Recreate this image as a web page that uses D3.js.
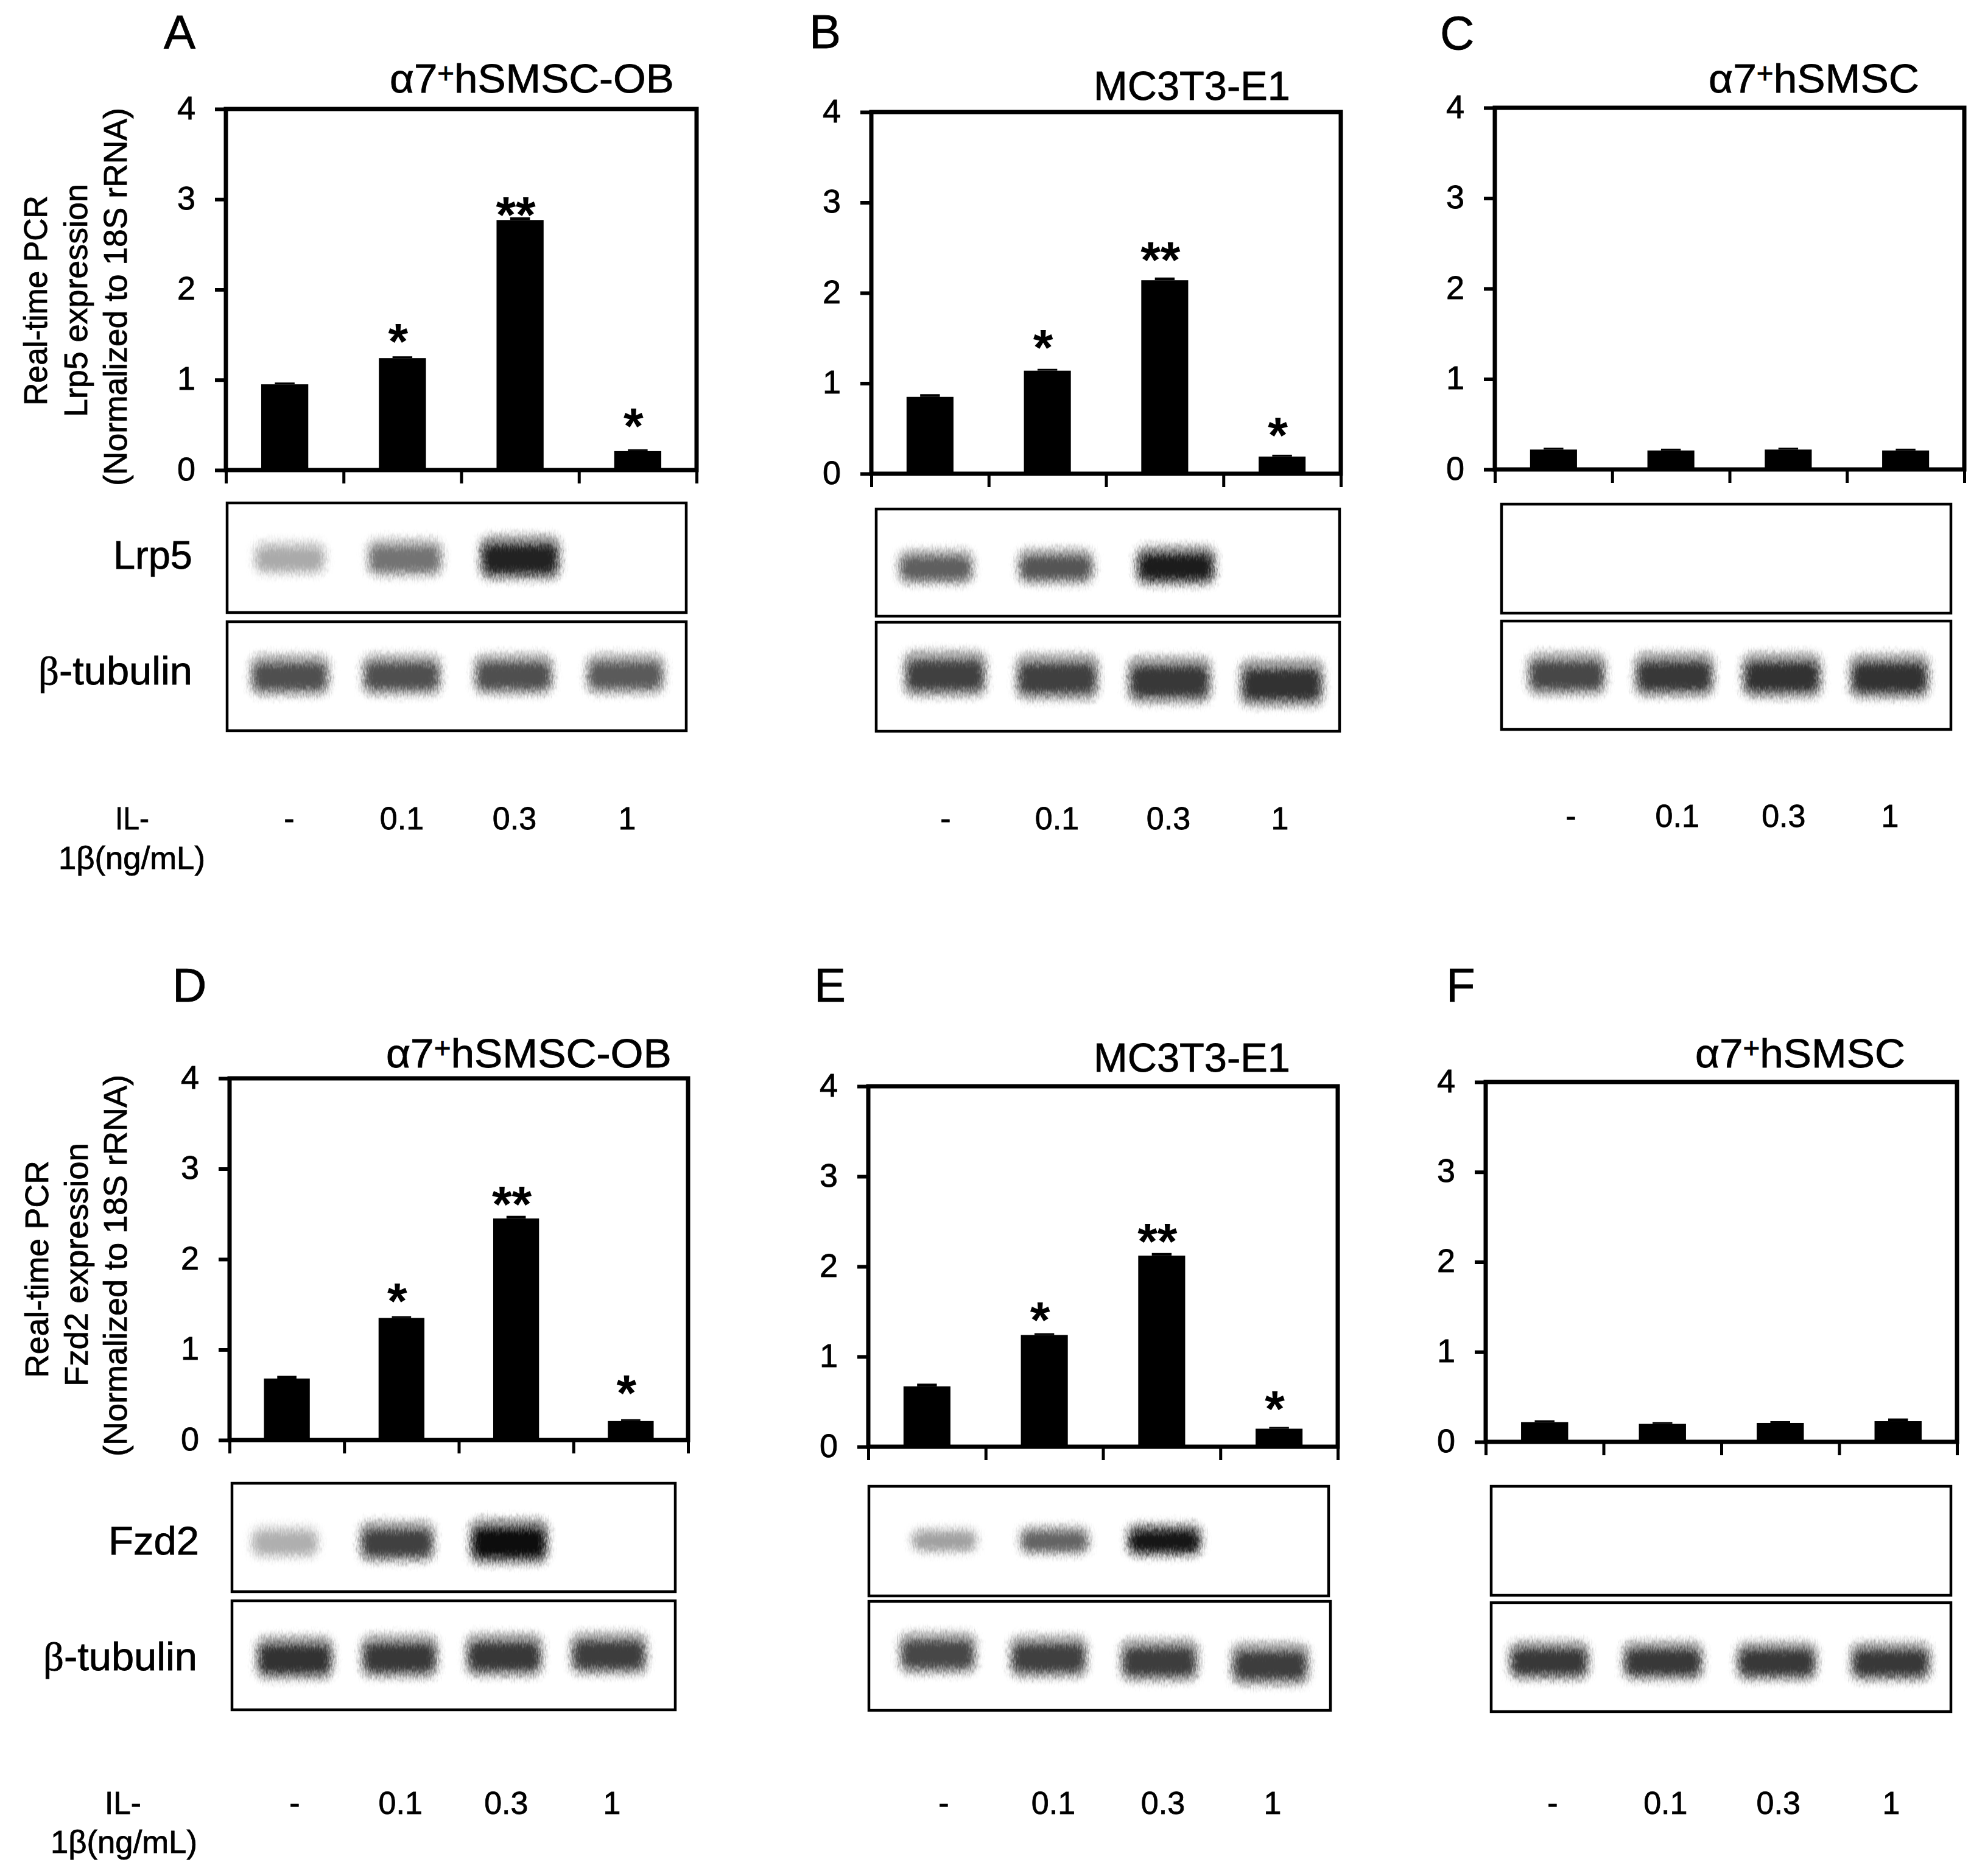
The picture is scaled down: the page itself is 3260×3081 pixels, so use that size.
<!DOCTYPE html>
<meta charset="utf-8">
<style>
  body { margin: 0; background: #fff; }
  text { font-family: "Liberation Sans", Arial, sans-serif; fill: #000; stroke: #000; stroke-width: 0.8px; }
</style>
<script src="https://d3js.org/d3.v7.min.js"></script>
<div id="figure"></div>
<script>
// bar values
var doses = ["-", "0.1", "0.3", "1"];
var yTicks = [0, 1, 2, 3, 4];

var lrp5Ob = [0.95, 1.24, 2.77, 0.21];
var lrp5Mc = [0.85, 1.14, 2.14, 0.19];
var lrp5Sc = [0.22, 0.21, 0.22, 0.21];
var fzd2Ob = [0.68, 1.35, 2.45, 0.21];
var fzd2Mc = [0.67, 1.24, 2.12, 0.20];
var fzd2Sc = [0.22, 0.20, 0.21, 0.23];

var lrp5ObErr = [0.02, 0.02, 0.03, 0.02];
var lrp5McErr = [0.03, 0.02, 0.03, 0.02];
var lrp5ScErr = [0.02, 0.02, 0.02, 0.02];
var fzd2ObErr = [0.03, 0.02, 0.03, 0.02];
var fzd2McErr = [0.03, 0.02, 0.03, 0.02];
var fzd2ScErr = [0.02, 0.02, 0.02, 0.03];

// significance marks, and the height (in axis units) where they sit
var stars = ["", "*", "**", "*"];
var noStars = ["", "", "", ""];
var lrp5ObStarAt = [0, 1.50, 2.90, 0.56];
var lrp5McStarAt = [0, 1.47, 2.44, 0.50];
var fzd2ObStarAt = [0, 1.61, 2.68, 0.59];
var fzd2McStarAt = [0, 1.48, 2.35, 0.49];

// gel band grey levels (255 = no band)
var lrp5ObBands = [170, 115, 35, 255];
var lrp5McBands = [95, 85, 30, 255];
var noBands = [255, 255, 255, 255];
var fzd2ObBands = [175, 65, 10, 255];
var fzd2McBands = [160, 100, 25, 255];
var tubObBands = [80, 80, 80, 90];
var tubMcBands = [65, 65, 55, 50];
var tubScBands = [70, 55, 50, 50];
var tubOb2Bands = [50, 55, 55, 60];
var tubMc2Bands = [70, 65, 60, 60];
var tubSc2Bands = [55, 55, 55, 55];

var sans = "Liberation Sans";

var panels = [
  { letter: "A", lx: 269, ly: 80, title: "ob", tx: [640, 1107], ty: 152, frame: [371, 1144, 179, 772],
    values: lrp5Ob, errs: lrp5ObErr, marks: stars, starAt: lrp5ObStarAt,
    gene: "Lrp5", geneX: [186, 316], geneY: 934, tubX: [63, 316], tubY: 1124,
    ylabel: { lines: ["Real-time PCR", "Lrp5 expression", "(Normalized to 18S rRNA)"], x: [77, 143, 208], y: [[666, 321], [685, 302], [798, 177]] },
    il: { a: [189, 245, 1362], b: [96, 337, 1427] },
    box1: [373, 1127, 826, 1006], box2: [373, 1127, 1021, 1200],
    top: { bands: lrp5ObBands, lanes: [476, 1043], cy: [918, 918], w: 134, h: 68 },
    bot: { bands: tubObBands, lanes: [476, 1027], cy: [1111, 1109], w: 136, h: 68 },
    doseX: [475, 1030], doseY: 1362 },
  { letter: "B", lx: 1329, ly: 79, title: "mc", tx: [1796, 2119], ty: 164, frame: [1431, 2202, 184, 778],
    values: lrp5Mc, errs: lrp5McErr, marks: stars, starAt: lrp5McStarAt,
    box1: [1439, 2200, 836, 1012], box2: [1439, 2200, 1022, 1201],
    top: { bands: lrp5McBands, lanes: [1537, 2128], cy: [933, 930], w: 132, h: 60 },
    bot: { bands: tubMcBands, lanes: [1552, 2105], cy: [1109, 1124], w: 140, h: 74 },
    doseX: [1553, 2102], doseY: 1362 },
  { letter: "C", lx: 2365, ly: 81, title: "sc", tx: [2806, 3152], ty: 152, frame: [2455, 3226, 177, 771],
    values: lrp5Sc, errs: lrp5ScErr, marks: noStars,
    box1: [2466, 3204, 828, 1007], box2: [2466, 3204, 1020, 1198],
    top: { bands: noBands, lanes: [2573, 3103], cy: [918, 918], w: 130, h: 60 },
    bot: { bands: tubScBands, lanes: [2573, 3103], cy: [1109, 1113], w: 134, h: 70 },
    doseX: [2580, 3104], doseY: 1358 },
  { letter: "D", lx: 283, ly: 1645, title: "ob", tx: [634, 1103], ty: 1753, frame: [377, 1130, 1771, 2365],
    values: fzd2Ob, errs: fzd2ObErr, marks: stars, starAt: fzd2ObStarAt,
    gene: "Fzd2", geneX: [178, 327], geneY: 2553, tubX: [71, 324], tubY: 2743,
    ylabel: { lines: ["Real-time PCR", "Fzd2 expression", "(Normalized to 18S rRNA)"], x: [79, 144, 208], y: [[2263, 1906], [2277, 1877], [2392, 1765]] },
    il: { a: [172, 232, 2979], b: [83, 324, 3043] },
    box1: [381, 1109, 2436, 2614], box2: [381, 1109, 2629, 2808],
    top: { bands: fzd2ObBands, lanes: [468, 1020], cy: [2534, 2534], w: 128, h: 66 },
    bot: { bands: tubOb2Bands, lanes: [484, 1000], cy: [2725, 2718], w: 130, h: 68 },
    doseX: [484, 1005], doseY: 2979 },
  { letter: "E", lx: 1337, ly: 1645, title: "mc", tx: [1796, 2119], ty: 1760, frame: [1426, 2197, 1784, 2376],
    values: fzd2Mc, errs: fzd2McErr, marks: stars, starAt: fzd2McStarAt,
    box1: [1427, 2182, 2441, 2621], box2: [1427, 2185, 2630, 2809],
    top: { bands: fzd2McBands, lanes: [1551, 2093], cy: [2531, 2531], w: 125, h: 50 },
    bot: { bands: tubMc2Bands, lanes: [1540, 2086], cy: [2717, 2735], w: 132, h: 68 },
    doseX: [1550, 2090], doseY: 2979 },
  { letter: "F", lx: 2375, ly: 1645, title: "sc", tx: [2784, 3129], ty: 1753, frame: [2440, 3214, 1777, 2368],
    values: fzd2Sc, errs: fzd2ScErr, marks: noStars,
    box1: [2449, 3204, 2441, 2620], box2: [2449, 3204, 2632, 2811],
    top: { bands: noBands, lanes: [2544, 3105], cy: [2530, 2530], w: 130, h: 60 },
    bot: { bands: tubSc2Bands, lanes: [2544, 3105], cy: [2729, 2731], w: 136, h: 62 },
    doseX: [2550, 3106], doseY: 2979 }
];

var svg = d3.select("#figure").append("svg")
  .attr("width", 3260)
  .attr("height", 3081);

// soft edge with vertical streaks, like the scanned gel bands
var band = svg.append("defs").append("filter")
  .attr("id", "band")
  .attr("x", "-30%").attr("y", "-70%")
  .attr("width", "160%").attr("height", "240%");
band.append("feGaussianBlur").attr("stdDeviation", 6).attr("result", "soft");
band.append("feTurbulence").attr("type", "fractalNoise").attr("baseFrequency", "0.45 0.12")
  .attr("numOctaves", 2).attr("seed", 3).attr("result", "grain");
band.append("feDisplacementMap").attr("in", "soft").attr("in2", "grain")
  .attr("scale", 16).attr("xChannelSelector", "R").attr("yChannelSelector", "G");

// stretch a label so that it runs from x0 to x1 (the original text is not at its natural width)
function fit(sel, x0, x1, y, size, angle) {
  sel.attr("font-size", size).attr("transform", null);
  var k = Math.abs(x1 - x0) / sel.node().getComputedTextLength();
  if (angle) sel.attr("transform", "translate(" + y + "," + x0 + ") rotate(-90) scale(" + k + ",1)");
  else sel.attr("transform", "translate(" + x0 + "," + y + ") scale(" + k + ",1)");
  return sel;
}

function drawTitle(g, p) {
  var t = g.append("text");
  if (p.title == "mc") {
    t.text("MC3T3-E1");
  } else {
    t.append("tspan").text("α7");
    t.append("tspan").attr("font-size", 46).attr("dy", -16).text("+");
    t.append("tspan").attr("dy", 16).text(p.title == "ob" ? "hSMSC-OB" : "hSMSC");
  }
  fit(t, p.tx[0], p.tx[1], p.ty, 67);
}

function drawBands(g, row) {
  var lane = d3.scalePoint().domain(doses).range(row.lanes);
  var rowY = d3.scaleLinear().domain([0, 3]).range(row.cy);
  var drawn = g.selectAll(null)
    .data(doses.map(function(d, i) {
      var dark = 1 - row.bands[i] / 255;
      // darker bands spread further
      return { dose: d, i: i, grey: row.bands[i], w: row.w * (0.9 + 0.2 * dark), h: row.h * (0.7 + 0.5 * dark) };
    }).filter(function(d) { return d.grey < 255; }))
    .enter().append("g");

  // faint halo leaning upward, then the dark core
  drawn.append("rect")
    .attr("x", function(d) { return lane(d.dose) - d.w / 2 + 4; })
    .attr("y", function(d) { return rowY(d.i) - d.h * 0.52; })
    .attr("width", function(d) { return d.w - 8; })
    .attr("height", function(d) { return d.h * 0.98; })
    .attr("rx", 20)
    .attr("fill", function(d) { return d3.rgb(d.grey, d.grey, d.grey); })
    .attr("opacity", 0.45)
    .attr("filter", "url(#band)");
  drawn.append("rect")
    .attr("x", function(d) { return lane(d.dose) - d.w / 2 + 12; })
    .attr("y", function(d) { return rowY(d.i) - d.h * 0.3; })
    .attr("width", function(d) { return d.w - 24; })
    .attr("height", function(d) { return d.h * 0.6; })
    .attr("rx", 14)
    .attr("fill", function(d) { return d3.rgb(d.grey, d.grey, d.grey); })
    .attr("filter", "url(#band)");
}

function drawBox(g, b) {
  g.append("rect")
    .attr("x", b[0]).attr("y", b[2])
    .attr("width", b[1] - b[0]).attr("height", b[3] - b[2])
    .attr("fill", "none").attr("stroke", "#000").attr("stroke-width", 4.5);
}

panels.forEach(function(p) {
  var g = svg.append("g");
  var left = p.frame[0], right = p.frame[1], top = p.frame[2], bottom = p.frame[3];

  g.append("text").attr("x", p.lx).attr("y", p.ly).attr("font-size", 78).text(p.letter);
  drawTitle(g, p);

  var y = d3.scaleLinear().domain([0, 4]).range([bottom, top]);
  var x = d3.scaleBand().domain(doses).range([left, right]).paddingInner(0.6).paddingOuter(0.3);
  var xEdges = d3.scaleLinear().domain([0, 4]).range([left, right]);

  // bars and their small error caps
  g.selectAll(null).data(doses).enter().append("rect")
    .attr("x", function(d) { return x(d); })
    .attr("y", function(d, i) { return y(p.values[i]); })
    .attr("width", x.bandwidth())
    .attr("height", function(d, i) { return bottom - y(p.values[i]); });
  g.selectAll(null).data(doses).enter().append("rect")
    .attr("x", function(d) { return x(d) + x.bandwidth() * 0.29; })
    .attr("y", function(d, i) { return y(p.values[i] + p.errs[i]); })
    .attr("width", x.bandwidth() * 0.42)
    .attr("height", function(d, i) { return y(p.values[i]) - y(p.values[i] + p.errs[i]); });

  g.selectAll(null).data(doses).enter().append("text")
    .attr("x", function(d) { return x(d) + x.bandwidth() / 2 - 7; })
    .attr("y", function(d, i) { return p.starAt ? y(p.starAt[i]) + 40 : 0; })
    .attr("text-anchor", "middle")
    .attr("font-size", 84)
    .attr("font-weight", "bold")
    .style("stroke-width", 0)
    .text(function(d, i) { return p.marks[i]; });

  // frame, axes
  g.append("rect")
    .attr("x", left).attr("y", top)
    .attr("width", right - left).attr("height", bottom - top)
    .attr("fill", "none").attr("stroke", "#000").attr("stroke-width", 7);

  var yAxis = g.append("g")
    .attr("transform", "translate(" + left + ",0)")
    .call(d3.axisLeft(y).tickValues(yTicks).tickSize(18).tickPadding(32).tickFormat(d3.format("d")));
  yAxis.select(".domain").remove();
  yAxis.selectAll("line").attr("stroke", "#000").attr("stroke-width", 6);
  yAxis.selectAll("text").attr("font-size", 54).attr("font-family", sans).attr("dy", "0.3em");

  var xAxis = g.append("g")
    .attr("transform", "translate(0," + bottom + ")")
    .call(d3.axisBottom(xEdges).ticks(4).tickSize(22).tickFormat(""));
  xAxis.select(".domain").remove();
  xAxis.selectAll("line").attr("stroke", "#000").attr("stroke-width", 5);

  // gel strips
  drawBands(g, p.top);
  drawBands(g, p.bot);
  drawBox(g, p.box1);
  drawBox(g, p.box2);

  // dose row
  var doseX = d3.scalePoint().domain(doses).range(p.doseX);
  g.selectAll(null).data(doses).enter().append("text")
    .attr("x", function(d) { return doseX(d); })
    .attr("y", p.doseY)
    .attr("text-anchor", "middle")
    .attr("font-size", 52)
    .text(function(d) { return d; });

  if (p.gene) {
    fit(g.append("text").text(p.gene), p.geneX[0], p.geneX[1], p.geneY, 65);
    var tub = g.append("text");
    tub.append("tspan").attr("font-family", "Liberation Serif").text("β");
    tub.append("tspan").text("-tubulin");
    fit(tub, p.tubX[0], p.tubX[1], p.tubY, 65);

    p.ylabel.lines.forEach(function(line, i) {
      fit(g.append("text").text(line), p.ylabel.y[i][0], p.ylabel.y[i][1], p.ylabel.x[i], 54, true);
    });
    fit(g.append("text").text("IL-"), p.il.a[0], p.il.a[1], p.il.a[2], 52);
    fit(g.append("text").text("1β(ng/mL)"), p.il.b[0], p.il.b[1], p.il.b[2], 52);
  }
});
</script>
